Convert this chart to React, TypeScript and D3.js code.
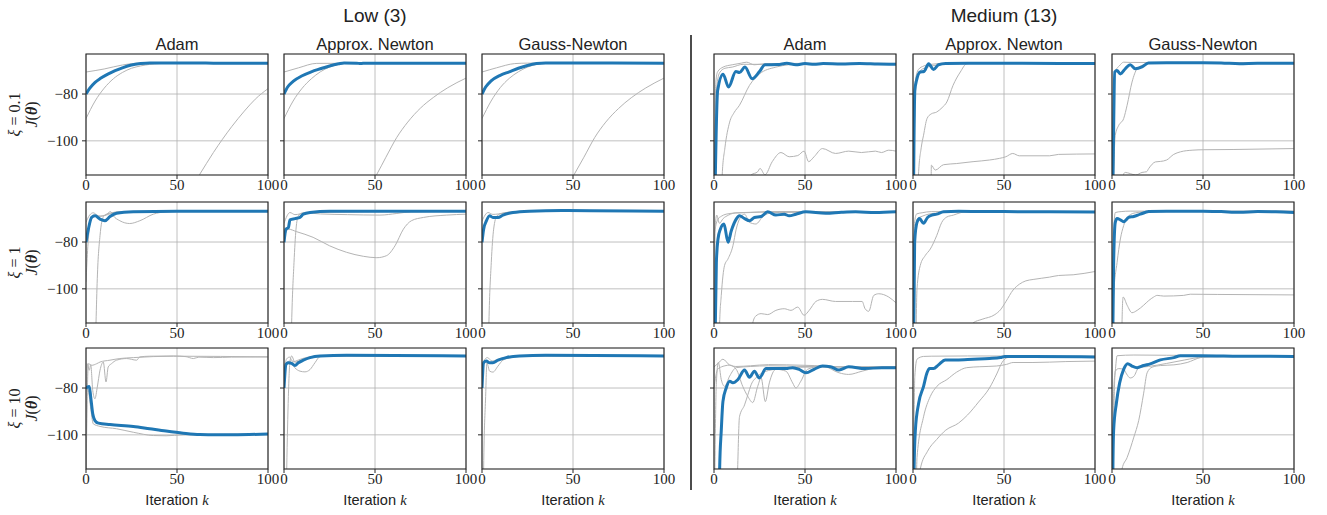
import React from 'react';
import * as d3 from 'd3';

type Pt = [number, number];
type Panel = { best: Pt[]; runs: Pt[][] };

// ---------- labels ----------
const GROUPS = ['Low (3)', 'Medium (13)'];
const METHODS = ['Adam', 'Approx. Newton', 'Gauss-Newton'];
const XIS = ['0.1', '1', '10'];
const X_TICKS = [0, 50, 100];
const Y_TICKS = [-80, -100];
const Y_DOMAIN: [number, number] = [-114.6, -62.9];

// ---------- data: xi = 0.1 ----------
const LOW_ADAM_01: Panel = {
  best: [[0,-80],[2,-77.6],[5,-75],[8,-73.3],[12,-71.5],[16,-70],[20,-68.8],[25,-67.6],[30,-67],[35,-66.7],[45,-66.7],[70,-66.8],[100,-66.8]],
  runs: [
    [[0,-70.6],[10,-69.3],[20,-67.6],[30,-66.8],[100,-66.8]],
    [[0,-90.5],[5,-83],[10,-77.5],[15,-73.5],[20,-70.8],[25,-69],[30,-68],[40,-67],[50,-66.8],[100,-66.8]],
    [[40,-148],[50,-132],[57,-121],[62.5,-114.3],[70,-105],[75,-99.3],[80,-94],[87,-87.3],[93,-82.2],[100,-77.7]],
  ],
};
const LOW_AN_01: Panel = {
  best: [[0,-80],[2,-77],[5,-74.6],[10,-72.2],[15,-70.5],[20,-69.2],[25,-68],[30,-67.1],[33,-66.7],[40,-66.8],[42,-67],[45,-66.8],[100,-66.8]],
  runs: [
    [[0,-70.6],[8,-68.8],[18,-66.9],[100,-66.8]],
    [[0,-90.5],[5,-83],[10,-77.5],[15,-73.5],[20,-70.5],[25,-68.5],[30,-67.3],[35,-66.8],[100,-66.8]],
    [[35,-140],[45,-122],[51,-114.3],[56,-107],[62,-98.5],[68,-92],[75,-86],[82,-81.5],[90,-77.3],[100,-73.2]],
  ],
};
const LOW_GN_01: Panel = {
  best: [[0,-80],[2,-77],[5,-74.4],[10,-72],[15,-70.5],[20,-69],[25,-67.8],[30,-67],[35,-66.7],[100,-66.8]],
  runs: [
    [[0,-70.6],[8,-68.8],[18,-67],[25,-66.8],[100,-66.8]],
    [[0,-90.5],[5,-83],[10,-77.3],[15,-73.3],[20,-70.5],[25,-68.5],[30,-67.3],[36,-66.8],[100,-66.8]],
    [[35,-140],[45,-122],[50.7,-114.3],[56,-107],[62,-98.5],[68,-92],[75,-86.2],[82,-81.6],[90,-77.4],[100,-73.2]],
  ],
};
const MED_ADAM_01: Panel = {
  best: [[0,-150],[2,-78.5],[5,-71.5],[8,-77],[12,-70.4],[14,-70.8],[17,-68.5],[21,-73.5],[25,-70.4],[28,-67.5],[35,-67.4],[40,-66.9],[45,-67.5],[50,-67],[55,-67.3],[60,-67],[70,-67.2],[80,-67],[90,-67.2],[100,-67.3]],
  runs: [
    [[0,-150],[1,-75],[2,-70.5],[5,-68.5],[10,-67.5],[15,-66.8],[18,-66.4],[22,-67.5],[30,-67],[50,-66.9],[100,-66.9]],
    [[0,-150],[1.2,-80],[3,-71],[6,-69],[10,-68.5],[16,-67.3],[25,-67.3],[35,-67],[100,-67]],
    [[3,-150],[4.5,-114.6],[6,-103],[8.6,-92],[11,-88],[14,-84.8],[19.5,-76.3],[25,-71.4],[34,-68.5],[41,-67.5],[50,-67],[100,-67]],
    [[19,-120],[20.4,-114.6],[24,-113.2],[25.3,-111.8],[28,-114.5],[32,-108.9],[36.8,-105],[41.3,-106.8],[46,-106.3],[49.5,-104.4],[52,-108.9],[55,-106.8],[59.6,-103.3],[66.8,-105.4],[74,-104.4],[81,-105],[88.7,-104.4],[92,-105],[96,-104],[100,-104.4]],
  ],
};
const MED_AN_01: Panel = {
  best: [[0,-150],[1,-78.5],[2,-74],[4,-70.6],[6,-70.4],[8.6,-67.1],[11.3,-69.5],[14,-67.5],[18,-67],[30,-66.8],[60,-66.9],[100,-67]],
  runs: [
    [[0,-150],[1,-76],[3,-69.5],[6,-68],[10,-67.3],[20,-66.8],[100,-66.9]],
    [[0,-150],[1.5,-74],[4,-70],[8,-68.5],[15,-67.5],[30,-66.9],[100,-66.9]],
    [[2,-150],[3,-114.6],[4.5,-103],[5.8,-97.6],[7.7,-90.5],[10,-88.5],[13,-87.7],[16,-85.8],[18.6,-83.4],[22,-76.3],[26,-70.6],[29.5,-67.1],[35,-66.8],[100,-66.9]],
    [[9.9,-125],[10.1,-110.4],[12.2,-112.5],[16.8,-110.2],[24,-109.7],[33,-108.9],[42,-108.2],[47.5,-107.5],[51,-106.8],[54.8,-105.4],[58.4,-106.4],[75,-106.4],[80,-105.8],[100,-105.6]],
  ],
};
const MED_GN_01: Panel = {
  best: [[0,-150],[0.8,-100],[1.5,-70.6],[2.7,-69.9],[4.6,-71.4],[7.3,-69.2],[10,-67.5],[12.8,-69.2],[16.5,-68.4],[20,-66.7],[30,-66.6],[50,-66.6],[60,-66.7],[70,-67.1],[80,-66.9],[100,-66.9]],
  runs: [
    [[0,-150],[1,-75],[2,-70],[4,-68],[6.4,-66.4],[10,-66.5],[100,-66.7]],
    [[0,-150],[1.8,-97.6],[3.7,-93.4],[6.4,-90.5],[8.3,-84.8],[11,-74.9],[13.8,-69.2],[17.4,-67.5],[22,-66.8],[100,-66.8]],
    [[5.5,-125],[6.5,-114],[7.3,-113.5],[10,-114],[13,-114.6],[16.5,-113.5],[19,-113.2],[20.2,-111.8],[23.9,-109],[26.6,-108.8],[30,-108.2],[33.9,-105.8],[37.6,-104.7],[44,-104],[50.5,-103.8],[67,-103.7],[100,-103.3]],
  ],
};

// ---------- data: xi = 1 ----------
const LOW_ADAM_1: Panel = {
  best: [[0,-80.1],[1.3,-74.5],[3.1,-69.5],[5,-68.8],[7.7,-70.2],[10.4,-70.9],[13.2,-69.1],[16.8,-67.7],[26,-67.1],[50,-66.8],[100,-66.8]],
  runs: [
    [[0,-71.5],[2,-68.5],[4,-67.5],[6,-68.5],[8,-69],[11,-68.3],[13.5,-67],[15,-68.8],[18.6,-70.9],[24,-72.1],[29.6,-70.9],[37,-68.1],[44,-67.1],[55,-66.8],[100,-66.8]],
    [[4.5,-150],[5.5,-114.6],[6.2,-95.7],[7.7,-77.3],[8.6,-71.6],[10,-68.8],[14,-67.5],[20,-67],[100,-66.8]],
    [[0,-97],[1,-82],[2.5,-70.5],[4,-68.5],[7,-69],[11,-68.5],[16,-67.3],[25,-67],[100,-66.8]],
  ],
};
const LOW_AN_1: Panel = {
  best: [[0,-80.1],[1.1,-74.5],[2.4,-73.8],[3.3,-70.5],[6,-70],[8.8,-69.5],[10.6,-68.1],[14.3,-67.4],[25,-66.9],[100,-66.8]],
  runs: [
    [[0,-78],[2.4,-74.5],[7,-75.6],[16,-78],[25,-81.6],[34.4,-84.4],[43.6,-86.1],[51,-86.7],[56.4,-85.8],[61,-81.6],[65.6,-74.5],[70,-70.9],[76.6,-69.5],[89.4,-68.5],[100,-68.1]],
    [[3.3,-150],[4.2,-114.6],[5.5,-88.7],[6.6,-74.5],[7.9,-68.8],[10,-67.6],[20,-67.3],[100,-66.8]],
    [[0,-72],[3.3,-67.4],[6,-68.3],[12,-67.6],[20,-68],[35,-68.3],[52.7,-68.5],[62,-67.8],[70,-67.1],[100,-66.9]],
  ],
};
const LOW_GN_1: Panel = {
  best: [[0,-80.1],[0.9,-74.5],[2.4,-71],[4.2,-68.8],[6,-69.5],[8.8,-69.5],[11.5,-68.5],[17,-67.4],[26,-66.8],[44,-66.5],[60,-66.6],[100,-66.8]],
  runs: [
    [[3,-150],[3.8,-114.6],[5.1,-88.7],[6.4,-74.5],[8.2,-68.8],[11,-67.8],[20,-67],[100,-66.8]],
    [[0,-71],[3.3,-67.4],[6,-68.2],[9,-68],[14,-67.3],[30,-66.7],[100,-66.8]],
  ],
};
const MED_ADAM_1: Panel = {
  best: [[0,-150],[1.3,-88.7],[2.2,-78.7],[3.5,-74.5],[5.5,-72.3],[7.7,-80.1],[9.5,-75.2],[12.2,-70.2],[14,-68.8],[16.8,-70],[19.5,-70.9],[22.2,-69.5],[25.9,-69.1],[29.5,-67.1],[34,-68.5],[38.6,-68.1],[41.3,-68.8],[45,-68.1],[50.5,-67.1],[61.4,-67.7],[70,-67.3],[77.8,-67.1],[88.7,-67.4],[100,-67.1]],
  runs: [
    [[0,-150],[0.4,-75.9],[2.2,-70.2],[4,-69],[6.7,-68.1],[12,-67.6],[20,-67.4],[30,-67],[50,-67],[100,-67.1]],
    [[0,-150],[0.6,-74],[1.5,-68.5],[3,-72],[5,-70],[8,-68.5],[12,-67.5],[30,-67.2],[100,-67.1]],
    [[2.5,-150],[3.1,-114.6],[4,-102.8],[5.8,-90],[7.7,-87.2],[10.4,-81.6],[12.2,-74.5],[14,-70.2],[16.8,-68.1],[19.5,-71.6],[23,-72.3],[27,-69],[32,-67.5],[40,-67.3],[100,-67.2]],
    [[20,-125],[21.3,-114.6],[23,-111.6],[25.9,-110.6],[29.5,-111],[34,-109.2],[38.6,-108.5],[42.3,-109.2],[46,-107.8],[49.5,-111.3],[52.3,-109.2],[56,-105.4],[59.6,-104.5],[66.8,-105.4],[76,-105.4],[81.4,-105.4],[83,-108.5],[85,-109.6],[87.8,-102.8],[90.5,-102.1],[96,-103.5],[100,-106]],
  ],
};
const MED_AN_1: Panel = {
  best: [[0,-150],[0.9,-80.1],[2.2,-71.6],[3.6,-70],[5.8,-72],[8,-69.5],[10.4,-68.5],[13,-68.1],[16.8,-67.1],[25,-66.9],[50,-67],[100,-67.2]],
  runs: [
    [[0,-150],[0.8,-72],[2,-68],[5,-67.5],[10,-67],[100,-67]],
    [[0,-150],[1,-78],[2.5,-70],[5,-69],[9,-68],[14,-67.6],[20,-67.1],[100,-67]],
    [[1.3,-150],[2.2,-100],[4,-90],[6.7,-85.8],[9.5,-83],[13,-77.3],[15.8,-71.6],[18.6,-69.3],[22.2,-68.5],[26,-67.5],[30,-67],[100,-67]],
    [[30,-130],[33,-114.6],[38,-113],[45,-111],[48,-109],[51,-105.5],[55,-100.5],[58.5,-98],[62,-96.6],[66,-96],[75,-95],[80,-94.3],[88,-94],[100,-92.6]],
  ],
};
const MED_GN_1: Panel = {
  best: [[0,-150],[0.9,-88.7],[1.8,-71.6],[2.8,-70],[4.6,-70.5],[6.4,-71.3],[9.2,-69.5],[11.9,-69.1],[15.6,-68.1],[20.2,-67],[30,-66.8],[50,-66.8],[60,-67],[70,-67.3],[80,-67],[90,-67.1],[100,-67.4]],
  runs: [
    [[0,-150],[1,-75],[1.8,-67.4],[5,-67],[10,-66.8],[100,-66.8]],
    [[0,-150],[0.9,-102.8],[2.8,-88.7],[4.6,-78.7],[6.4,-73],[9.2,-68.8],[13,-67.5],[20,-67],[100,-66.9]],
    [[5.3,-130],[5.5,-114.6],[6.1,-103.5],[8.3,-107],[11,-110.2],[13.8,-109.2],[17.4,-107],[20.2,-105],[22.9,-103.5],[24.8,-102.8],[28.4,-103.1],[39.4,-102.8],[43,-102.3],[57.8,-102.4],[100,-102.6]],
  ],
};

// ---------- data: xi = 10 ----------
const LOW_ADAM_10: Panel = {
  best: [[0,-80.3],[0.7,-79.6],[1.8,-79.3],[2.6,-83.9],[3.7,-91],[4.9,-93.9],[6.8,-95],[13.2,-95.6],[26,-96.4],[35,-97.4],[44,-98.4],[53.4,-99.3],[62.5,-99.9],[71.7,-100],[80.8,-100],[100,-99.6]],
  runs: [
    [[0,-79],[1.5,-82],[2.5,-88],[4,-95.3],[7.7,-96.4],[16.8,-97.4],[26,-98.9],[37,-100.3],[44,-100.4],[53.4,-100],[62.5,-99.9],[100,-99.6]],
    [[0,-130],[0.7,-69.6],[1.8,-72.4],[2.6,-70],[3.7,-81],[4.9,-84.6],[6.2,-79.6],[7.7,-72.4],[9.5,-68.9],[11,-77.4],[12.2,-71],[14,-69.6],[16.8,-68.1],[22.3,-67.4],[27.8,-68.1],[29.6,-66.7],[35,-66.4],[48,-66.3],[55,-66.6],[59,-67.4],[62,-66.8],[70,-67],[80,-66.8],[100,-66.7]],
    [[0,-120],[1.3,-69.6],[3.1,-70.3],[5.9,-69.6],[7.7,-68.9],[13.2,-68.1],[18.6,-67.4],[26,-67],[48,-66.4],[100,-66.7]],
  ],
};
const LOW_AN_10: Panel = {
  best: [[0,-80],[1.1,-69.9],[2.4,-69.2],[4.2,-69.5],[6,-70.4],[7.9,-69.2],[10.6,-68.1],[14.3,-67],[19.8,-66.3],[34.4,-66],[100,-66.3]],
  runs: [
    [[0.8,-150],[1.5,-114.6],[2.4,-83.6],[3.3,-68.5],[4.2,-66.3],[6,-69],[8,-68.5],[12,-67.3],[20,-66.4],[100,-66.3]],
    [[0,-75],[1.5,-69],[3.3,-68.5],[6,-71.4],[8.8,-72.8],[11.5,-73.1],[14.3,-72.1],[17,-69.2],[19.8,-66.6],[30,-66.1],[100,-66.3]],
    [[0,-72],[1.5,-67.5],[3,-66.8],[5,-68.8],[8,-68],[12,-67],[20,-66.3],[100,-66.3]],
  ],
};
const LOW_GN_10: Panel = {
  best: [[0,-80],[0.9,-69.2],[2.4,-68.5],[4.2,-69.2],[6,-69.2],[8.8,-68.1],[13.3,-67],[20.6,-66.3],[35,-66],[100,-66.3]],
  runs: [
    [[0.5,-150],[0.9,-114.6],[2,-83.6],[2.7,-69.2],[4.2,-72.8],[6,-73.2],[8.8,-70.6],[11.5,-68.1],[16,-67],[25,-66.3],[100,-66.3]],
    [[0,-72],[1.5,-67.8],[3,-67],[5.5,-68.5],[8,-68],[12,-67],[20,-66.3],[100,-66.3]],
  ],
};
const MED_ADAM_10: Panel = {
  best: [[2.5,-150],[3.1,-114.6],[4,-98.1],[4.9,-85.8],[6.7,-80],[8.6,-77.1],[10.4,-77.8],[13.1,-76.4],[16.8,-72.3],[19.5,-75.4],[22.2,-72.8],[24.9,-75.7],[28.6,-71.7],[34,-71.7],[39.5,-71.7],[43.2,-71.3],[46.8,-72],[50.5,-73.5],[55,-72],[59.6,-70.6],[64,-70.9],[68.7,-72.3],[74,-70.9],[83,-71.7],[92.3,-71.3],[100,-71.3]],
  runs: [
    [[0,-150],[1.3,-77.8],[2.4,-69.1],[4,-76.4],[5.8,-79.3],[8.6,-74.9],[12.2,-71.3],[20,-70.8],[30,-70.5],[50,-70.8],[100,-71]],
    [[0,-80],[2,-72],[4,-71],[6,-70.5],[8.6,-70.2],[12.2,-72],[15.8,-79.3],[18.6,-83.6],[21.3,-86.2],[24,-79.3],[25.9,-75.7],[28.2,-85.8],[30.4,-77.8],[34,-72],[39.5,-72.8],[43.2,-77.8],[45,-80],[47.7,-77.1],[51.4,-72],[59.6,-70.6],[70,-71],[100,-71]],
    [[12,-150],[13,-114.6],[14,-92.3],[16.8,-87.2],[18.6,-82.9],[20.4,-78.6],[24,-75],[30,-72.5],[40,-71.5],[55,-71],[100,-71]],
    [[0,-71],[2.2,-69.5],[4.9,-67.7],[8.6,-70.2],[12,-70.8],[20,-70.5],[30,-70],[50,-70.3],[60,-70.6],[68.7,-73.5],[74,-74.2],[81.4,-72.8],[90,-71.3],[100,-71]],
  ],
};
const MED_AN_10: Panel = {
  best: [[0.2,-150],[0.6,-114.6],[1.3,-98.1],[3.1,-86.5],[5.8,-79.3],[7.7,-73.5],[9.1,-71.7],[11.3,-71.7],[14,-70.1],[17.7,-68],[24,-68],[33,-67.7],[42,-67.4],[48,-67],[50.5,-66.5],[65.9,-66.5],[100,-66.7]],
  runs: [
    [[0,-150],[1,-75],[2.2,-67.7],[5.8,-66.5],[10,-66.4],[30,-66.3],[100,-66.4]],
    [[1.5,-150],[2.2,-109.7],[5.8,-92.3],[9.5,-83.6],[13.1,-79.3],[18.6,-76.4],[24,-73.2],[29.5,-71.3],[36.7,-70.9],[45.8,-70.6],[51.4,-69.9],[55,-69.1],[65.9,-69.1],[84,-68.7],[100,-68.5]],
    [[3,-150],[4,-114.6],[8,-107],[13,-102],[18,-98],[25,-95],[30,-91.5],[36,-86],[42,-80],[46,-74],[49,-69],[52,-67],[60,-66.6],[100,-66.6]],
  ],
};
const MED_GN_10: Panel = {
  best: [[0.2,-150],[0.5,-114.6],[0.9,-98.1],[2.4,-86.5],[4.2,-77.8],[6.4,-72],[8.6,-69.6],[11,-70.6],[13.8,-71.3],[17.4,-70.4],[21,-69.7],[26.6,-68],[34,-67],[37.6,-66.2],[48.6,-66.2],[70,-66.4],[100,-66.5]],
  runs: [
    [[0,-150],[1,-80],[1.8,-72.8],[2.8,-66.2],[12,-65.9],[30,-66],[100,-66.2]],
    [[0,-150],[1.8,-72.8],[3.7,-71.7],[6.4,-72],[8,-74],[10,-75.7],[12,-75],[14.7,-71.3],[20,-70.8],[30,-69.5],[40,-68],[50,-66.8],[100,-66.3]],
    [[4.5,-150],[5.5,-114.6],[8.3,-109.7],[12,-101],[14.7,-93.8],[17.4,-82.2],[19.3,-73.5],[22,-71.1],[26.6,-70.4],[34,-70.1],[41.3,-69.1],[48.6,-67],[55,-66.5],[100,-66.4]],
  ],
};

const GRID_DATA: Panel[][] = [
  [LOW_ADAM_01, LOW_AN_01, LOW_GN_01, MED_ADAM_01, MED_AN_01, MED_GN_01],
  [LOW_ADAM_1, LOW_AN_1, LOW_GN_1, MED_ADAM_1, MED_AN_1, MED_GN_1],
  [LOW_ADAM_10, LOW_AN_10, LOW_GN_10, MED_ADAM_10, MED_AN_10, MED_GN_10],
];

// ---------- layout ----------
const W = 1327, H = 515;
const PANEL_X = [86, 284, 482, 714, 913, 1112];
const ROW_Y = [54, 202, 348];
const PW = 182, PH = 121;
const SANS = '"Liberation Sans", Arial, sans-serif';
const SERIF = '"Liberation Serif", "Times New Roman", serif';
const TXT = '#222';
const BLUE = '#1f77b4';
const GRAY = '#b4b4b4';
const GRIDC = '#b0b0b0';

const xs = d3.scaleLinear().domain([0, 100]).range([0, PW]);
const ys = d3.scaleLinear().domain(Y_DOMAIN).range([PH, 0]);
const lineGen = d3.line<Pt>().x(d => xs(d[0])).y(d => ys(d[1])).curve(d3.curveMonotoneX);

function PanelView({ data, r, c }: { data: Panel; r: number; c: number }) {
  const id = `clip-${r}-${c}`;
  const tx = PANEL_X[c], ty = ROW_Y[r];
  return (
    <g transform={`translate(${tx},${ty})`}>
      <defs>
        <clipPath id={id}><rect x={0} y={0} width={PW} height={PH} /></clipPath>
      </defs>
      {X_TICKS.map(t => (
        <line key={'gx' + t} x1={xs(t)} x2={xs(t)} y1={0} y2={PH} stroke={GRIDC} strokeWidth={0.8} />
      ))}
      {Y_TICKS.map(t => (
        <line key={'gy' + t} x1={0} x2={PW} y1={ys(t)} y2={ys(t)} stroke={GRIDC} strokeWidth={0.8} />
      ))}
      <g clipPath={`url(#${id})`}>
        {data.runs.map((run, i) => (
          <path key={i} d={lineGen(run) || ''} fill="none" stroke={GRAY} strokeWidth={1} />
        ))}
        <path d={lineGen(data.best) || ''} fill="none" stroke={BLUE} strokeWidth={3} strokeLinejoin="round" />
      </g>
      <rect x={0} y={0} width={PW} height={PH} fill="none" stroke="#262626" strokeWidth={1.1} />
      {Y_TICKS.map(t => (
        <line key={'ty' + t} x1={-4} x2={0} y1={ys(t)} y2={ys(t)} stroke="#262626" strokeWidth={1} />
      ))}
      {X_TICKS.map(t => (
        <line key={'tx' + t} x1={xs(t)} x2={xs(t)} y1={PH} y2={PH + 4} stroke="#262626" strokeWidth={1} />
      ))}
      {X_TICKS.map(t => (
        <text key={'lx' + t} x={xs(t)} y={PH + 15} textAnchor="middle" fontFamily={SERIF} fontSize={15} fill={TXT}>{t}</text>
      ))}
      {c === 0 && Y_TICKS.map(t => (
        <text key={'ly' + t} x={-8} y={ys(t)} dy="0.35em" textAnchor="end" fontFamily={SERIF} fontSize={15} fill={TXT}>{'\u2212' + Math.abs(t)}</text>
      ))}
      {r === 0 && (
        <text x={PW / 2} y={-4.5} textAnchor="middle" fontFamily={SANS} fontSize={16.5} fill={TXT}>{METHODS[c % 3]}</text>
      )}
      {r === 2 && (
        <text x={PW / 2} y={PH + 36} textAnchor="middle" fontFamily={SANS} fontSize={14.6} fill={TXT}>
          Iteration <tspan fontFamily={SERIF} fontStyle="italic">k</tspan>
        </text>
      )}
    </g>
  );
}

export default function App() {
  return (
    <svg width={W} height={H} style={{ position: 'absolute', left: 0, top: 0, background: '#fff' }}>
      <rect x={0} y={0} width={W} height={H} fill="#fff" />
      {GROUPS.map((g, gi) => {
        const x0 = PANEL_X[gi * 3], x1 = PANEL_X[gi * 3 + 2] + PW;
        return (
          <text key={g} x={(x0 + x1) / 2} y={22} textAnchor="middle" fontFamily={SANS} fontSize={19} fill={TXT}>{g}</text>
        );
      })}
      <line x1={691} x2={691} y1={35} y2={490} stroke="#111" strokeWidth={1.5} />
      {XIS.map((xi, r) => {
        const cy = ROW_Y[r] + PH / 2;
        return (
          <g key={xi}>
            <text transform={`translate(19.5,${cy}) rotate(-90)`} textAnchor="middle" fontFamily={SERIF} fontSize={16} fill={TXT}>
              <tspan fontStyle="italic">ξ</tspan>{' = ' + xi}
            </text>
            <text transform={`translate(36.5,${cy}) rotate(-90)`} textAnchor="middle" fontFamily={SERIF} fontSize={16} fill={TXT}>
              <tspan fontStyle="italic">J</tspan>(<tspan fontStyle="italic" fontWeight="bold">θ</tspan>)
            </text>
          </g>
        );
      })}
      {GRID_DATA.map((row, r) => row.map((p, c) => <PanelView key={`${r}-${c}`} data={p} r={r} c={c} />))}
    </svg>
  );
}
